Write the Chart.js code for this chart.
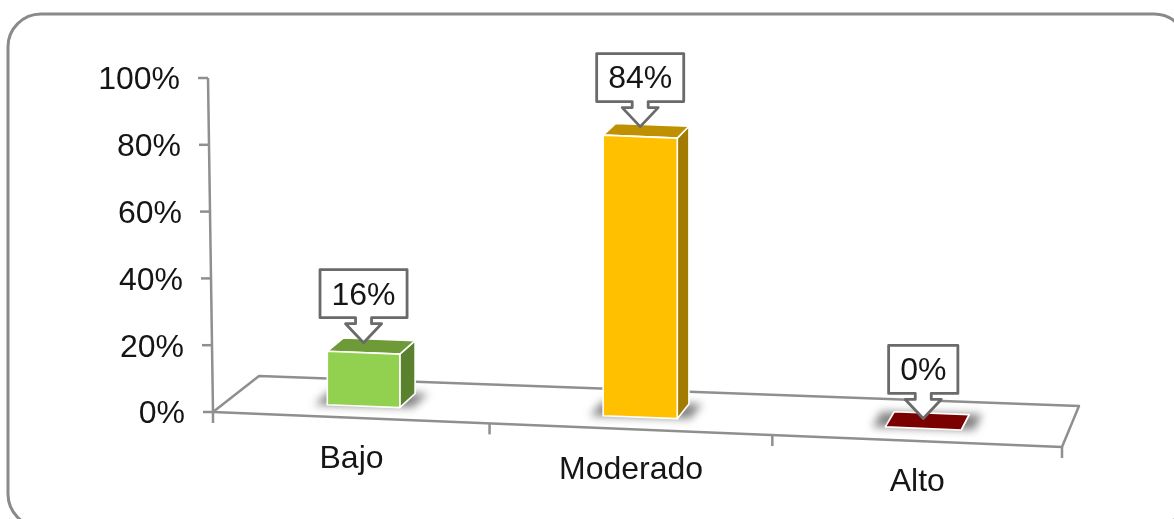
<!DOCTYPE html>
<html>
<head>
<meta charset="utf-8">
<title>Nivel</title>
<script src="https://cdn.jsdelivr.net/npm/chart.js@4"></script>
<style>
    html, body { margin: 0; padding: 0; background: #fff; }
    canvas { display: block; filter: blur(0.55px); }
</style>
</head>
<body>
<canvas id="levelChart" width="1174" height="519"></canvas>
<script>
const categories = ['Bajo', 'Moderado', 'Alto'];
const percentages = [16, 84, 0];
const tickLabels = ['0%', '20%', '40%', '60%', '80%', '100%'];

const frontColors = ['#92D050', '#FFC000', '#7B0000'];
const topColors = ['#6E9A38', '#BF9000', '#7B0000'];
const sideColors = ['#5A822E', '#A37B00', '#7B0000'];

const FONT = '32px "Liberation Sans", Arial, sans-serif';
const TEXT_COLOR = '#151515';
const AXIS_COLOR = '#8F8F8F';

// floor of the 3D plot, corners as drawn: front left, front right, back right, back left
const floorCorners = [[213, 412], [1062, 447], [1079, 406], [259, 376]];
const BAR_DEPTH_FRONT = 0.31;
const BAR_DEPTH_BACK = 0.69;
const PERSPECTIVE = 0.35; // the full homography is too strong for this picture

// Maps (across, depth) in 0..1 on to the floor
function makeFloorProjection(corners) {
    const [[x0, y0], [x1, y1], [x2, y2], [x3, y3]] = corners;
    const dx1 = x1 - x2, dx2 = x3 - x2, sx = x0 - x1 + x2 - x3;
    const dy1 = y1 - y2, dy2 = y3 - y2, sy = y0 - y1 + y2 - y3;
    const den = dx1 * dy2 - dx2 * dy1;
    const g = (sx * dy2 - dx2 * sy) / den;
    const h = (dx1 * sy - sx * dy1) / den;
    const a = x1 - x0 + g * x1, b = x3 - x0 + h * x3;
    const d = y1 - y0 + g * y1, e = y3 - y0 + h * y3;
    const mix = (p, q, t) => p + (q - p) * t;
    return (u, v) => {
        const w = g * u + h * v + 1;
        const flatX = mix(mix(x0, x1, u), mix(x3, x2, u), v);
        const flatY = mix(mix(y0, y1, u), mix(y3, y2, u), v);
        return [
            mix(flatX, (a * u + b * v + x0) / w, PERSPECTIVE),
            mix(flatY, (d * u + e * v + y0) / w, PERSPECTIVE)
        ];
    };
}
const project = makeFloorProjection(floorCorners);

function fillPolygon(ctx, points, color, edge) {
    ctx.beginPath();
    points.forEach((p, i) => (i ? ctx.lineTo(p[0], p[1]) : ctx.moveTo(p[0], p[1])));
    ctx.closePath();
    ctx.fillStyle = color;
    ctx.fill();
    if (edge) {
        ctx.strokeStyle = edge;
        ctx.lineWidth = 1.6;
        ctx.lineJoin = 'round';
        ctx.stroke();
    }
}

function line(ctx, x1, y1, x2, y2) {
    ctx.beginPath();
    ctx.moveTo(x1, y1);
    ctx.lineTo(x2, y2);
    ctx.stroke();
}

function drawFrame(ctx) {
    ctx.save();
    ctx.beginPath();
    ctx.roundRect(8, 14, 1179, 513, 33);
    ctx.strokeStyle = '#8A8A8A';
    ctx.lineWidth = 3;
    ctx.stroke();
    ctx.restore();
}

function drawAxes(chart) {
    const { ctx, scales: { x, y }, chartArea } = chart;
    const axisX = py => 213 - 5 * (y.getPixelForValue(0) - py) / (y.getPixelForValue(0) - y.getPixelForValue(100));

    ctx.save();
    ctx.strokeStyle = AXIS_COLOR;
    ctx.lineWidth = 2.5;
    ctx.lineJoin = 'round';

    // floor outline
    ctx.beginPath();
    floorCorners.forEach((p, i) => (i ? ctx.lineTo(p[0], p[1]) : ctx.moveTo(p[0], p[1])));
    ctx.closePath();
    ctx.stroke();

    // value axis and its ticks
    line(ctx, axisX(chartArea.top), chartArea.top, axisX(chartArea.bottom), chartArea.bottom);
    ctx.font = FONT;
    ctx.fillStyle = TEXT_COLOR;
    ctx.textAlign = 'right';
    ctx.textBaseline = 'middle';
    y.ticks.forEach(tick => {
        const py = y.getPixelForValue(tick.value);
        const px = axisX(py);
        line(ctx, px - 10, py, px, py);
        ctx.fillText(tick.label, px - 28, py + 2.5);
    });

    // category ticks along the front edge of the floor
    for (let i = 0; i <= categories.length; i++) {
        const [px, py] = project(i / categories.length, 0);
        line(ctx, px, py, px, py + 11);
    }

    // category labels
    ctx.textAlign = 'center';
    ctx.textBaseline = 'alphabetic';
    x.ticks.forEach((tick, i) => {
        const [px, py] = project((i + 0.5) / categories.length, 0);
        ctx.fillText(tick.label, px + 1, py + 50);
    });
    ctx.restore();
}

function barCorners(chart, bar) {
    const { left, right } = chart.chartArea;
    const span = right - left;
    const u0 = (bar.x - bar.width / 2 - left) / span;
    const u1 = (bar.x + bar.width / 2 - left) / span;
    const height = bar.base - bar.y;
    const fl = project(u0, BAR_DEPTH_FRONT), fr = project(u1, BAR_DEPTH_FRONT);
    const bl = project(u0, BAR_DEPTH_BACK), br = project(u1, BAR_DEPTH_BACK);
    const up = (p, k) => [p[0], p[1] - height * k];
    return { fl, fr, bl, br, ftl: up(fl, 1), ftr: up(fr, 1), btl: up(bl, 0.99), btr: up(br, 0.99) };
}

function drawBar(ctx, c, i, front) {
    ctx.save();
    ctx.filter = 'blur(4px)';
    fillPolygon(ctx, [
        [c.fl[0] - 13, c.fl[1]], [c.fr[0] + 13, c.fr[1]],
        [c.br[0] + 13, c.br[1]], [c.bl[0] - 13, c.bl[1]]
    ], 'rgba(80, 80, 80, 0.7)');
    ctx.restore();

    ctx.save();
    fillPolygon(ctx, [c.fr, c.br, c.btr, c.ftr], sideColors[i], '#fff');
    fillPolygon(ctx, [c.ftl, c.ftr, c.btr, c.btl], topColors[i], '#fff');
    if (c.fl[1] - c.ftl[1] > 0) fillPolygon(ctx, [c.fl, c.fr, c.ftr, c.ftl], front, '#fff');
    ctx.restore();
}

// data label: box with a hollow arrow pointing down at the top of the bar
function drawCallout(ctx, tipX, tipY, text) {
    ctx.save();
    ctx.font = FONT;
    const w = ctx.measureText(text).width + 23;
    const boxLeft = tipX - w / 2, boxRight = tipX + w / 2;
    const boxBottom = tipY - 25, boxTop = boxBottom - 48;
    ctx.beginPath();
    ctx.moveTo(boxLeft, boxTop);
    ctx.lineTo(boxRight, boxTop);
    ctx.lineTo(boxRight, boxBottom);
    ctx.lineTo(tipX + 8, boxBottom);
    ctx.lineTo(tipX + 8, boxBottom + 6);
    ctx.lineTo(tipX + 18, boxBottom + 6);
    ctx.lineTo(tipX, tipY);
    ctx.lineTo(tipX - 18, boxBottom + 6);
    ctx.lineTo(tipX - 8, boxBottom + 6);
    ctx.lineTo(tipX - 8, boxBottom);
    ctx.lineTo(boxLeft, boxBottom);
    ctx.closePath();
    ctx.fillStyle = '#fff';
    ctx.fill();
    ctx.strokeStyle = '#6A6A6A';
    ctx.lineWidth = 2.8;
    ctx.lineJoin = 'round';
    ctx.stroke();
    ctx.fillStyle = TEXT_COLOR;
    ctx.textAlign = 'center';
    ctx.textBaseline = 'middle';
    ctx.fillText(text, tipX, (boxTop + boxBottom) / 2 + 2);
    ctx.restore();
}

const bars3d = {
    id: 'bars3d',
    beforeDatasetsDraw(chart) {
        drawFrame(chart.ctx);
        drawAxes(chart);
    },
    beforeDatasetDraw() {
        return false; // the bars are drawn below, with their 3D faces
    },
    afterDatasetsDraw(chart) {
        const ctx = chart.ctx;
        const meta = chart.getDatasetMeta(0);
        const corners = meta.data.map(bar => barCorners(chart, bar));
        meta.data.forEach((bar, i) => drawBar(ctx, corners[i], i, bar.options.backgroundColor));
        meta.data.forEach((bar, i) => {
            const c = corners[i];
            drawCallout(ctx, (c.ftl[0] + c.ftr[0]) / 2, (c.ftl[1] + c.ftr[1]) / 2 - 10, percentages[i] + '%');
        });
    }
};

new Chart(document.getElementById('levelChart').getContext('2d'), {
    type: 'bar',
    data: {
        labels: categories,
        datasets: [{
            data: percentages,
            backgroundColor: frontColors,
            categoryPercentage: 1,
            barPercentage: 0.265
        }]
    },
    options: {
        responsive: false,
        animation: false,
        devicePixelRatio: 1,
        layout: { padding: { left: 213, right: 112, top: 78, bottom: 107 } },
        plugins: { legend: { display: false }, tooltip: { enabled: false } },
        scales: {
            x: { display: false },
            y: {
                display: false,
                min: 0,
                max: 100,
                ticks: { stepSize: 20, callback: (value, index) => tickLabels[index] }
            }
        }
    },
    plugins: [bars3d]
});
</script>
</body>
</html>
